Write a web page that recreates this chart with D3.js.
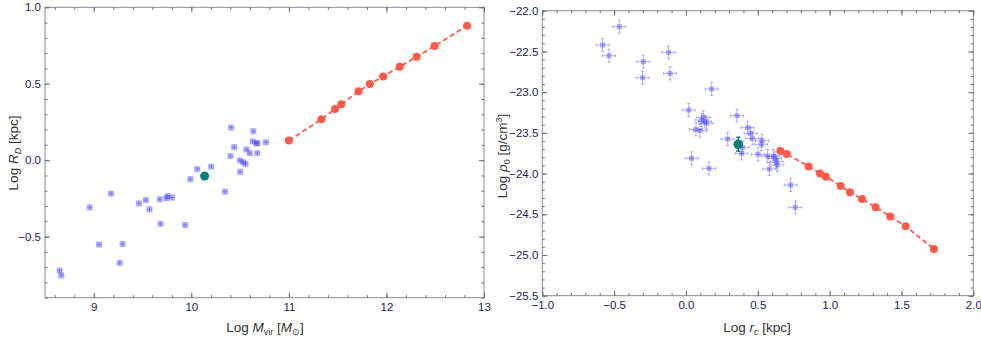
<!DOCTYPE html>
<html><head><meta charset="utf-8">
<script src="https://cdn.jsdelivr.net/npm/d3@7"></script>
<style>
body{margin:0;background:#fff;}
svg{display:block;font-family:"Liberation Sans",Arial,sans-serif;}
.tick text{fill:#1c1c55;font-size:11.5px;}
.domain{display:none;}
.tick line{stroke:#6a6a80;stroke-width:1;}
</style></head><body>
<svg id="c" width="981" height="338"></svg>
<script>
// Left panel: Log M_vir vs Log R_D
const leftObsX = [8.65,8.667,8.959,9.054,9.177,9.265,9.296,9.462,9.534,9.571,9.677,9.684,9.745,9.758,9.803,9.936,9.99,10.061,10.204,10.344,10.401,10.408,10.439,10.497,10.5,10.531,10.555,10.565,10.599,10.629,10.636,10.666,10.677,10.677,10.765];
const leftObsY = [-0.722,-0.754,-0.309,-0.552,-0.219,-0.672,-0.548,-0.283,-0.261,-0.322,-0.256,-0.417,-0.248,-0.235,-0.245,-0.424,-0.124,-0.059,-0.043,-0.206,0.026,0.213,0.085,-0.002,-0.076,-0.013,-0.024,0.070,0.046,0.122,0.189,0.109,0.112,0.046,0.117];
const leftSimX = [11.0,11.333,11.473,11.537,11.714,11.830,11.966,12.136,12.31,12.493,12.827];
const leftSimY = [0.128,0.267,0.335,0.365,0.450,0.498,0.548,0.611,0.676,0.746,0.880];
const leftRefX = [10.136];
const leftRefY = [-0.104];
const leftXTicks = [9,10,11,12,13];
const leftYTicks = [-0.5,0.0,0.5,1.0];

// Right panel: Log r_c vs Log rho_0
const rightObsX = [-0.464,-0.580,-0.536,-0.297,-0.302,-0.121,-0.111,0.179,0.019,0.121,0.109,0.132,0.144,0.070,0.097,0.355,0.290,0.039,0.160,0.429,0.450,0.462,0.529,0.524,0.394,0.387,0.501,0.568,0.608,0.619,0.631,0.636,0.580,0.729,0.761];
const rightObsY = [-22.196,-22.422,-22.553,-22.626,-22.823,-22.512,-22.770,-22.962,-23.220,-23.310,-23.343,-23.363,-23.384,-23.457,-23.474,-23.289,-23.576,-23.813,-23.936,-23.437,-23.506,-23.568,-23.596,-23.641,-23.678,-23.752,-23.764,-23.785,-23.785,-23.813,-23.854,-23.895,-23.944,-24.141,-24.415];
const rightSimX = [0.657,0.701,0.854,0.933,0.974,1.077,1.142,1.225,1.320,1.422,1.529,1.726];
const rightSimY = [-23.723,-23.760,-23.912,-23.998,-24.038,-24.153,-24.231,-24.313,-24.415,-24.526,-24.648,-24.927];
const rightRefX = [0.364];
const rightRefY = [-23.641];
const rightXTicks = [-1.0,-0.5,0.0,0.5,1.0,1.5,2.0];
const rightYTicks = [-25.5,-25.0,-24.5,-24.0,-23.5,-23.0,-22.5,-22.0];

const svg = d3.select("#c");
const RED = "#ff5a4c", TEAL = "#0c7f7b", BLUE = "rgba(70,70,255,0.42)";

function frame(g, x, y, xt, yt, xMinStep, yMinStep, xfmt, yfmt){
  const [x0,x1] = x.range(), [y1,y0] = y.range();
  const xd = x.domain(), yd = y.domain();
  const xMin = d3.range(Math.round(xd[0]/xMinStep), Math.round(xd[1]/xMinStep)+1).map(i=>i*xMinStep);
  const yMin = d3.range(Math.round(yd[0]/yMinStep), Math.round(yd[1]/yMinStep)+1).map(i=>i*yMinStep);
  g.append("rect").attr("x",x0).attr("y",y0).attr("width",x1-x0).attr("height",y1-y0)
    .attr("fill","none").attr("stroke","#8a8a98").attr("stroke-width",1);
  // minor
  g.append("g").attr("transform",`translate(0,${y1})`).call(d3.axisBottom(x).tickValues(xMin).tickSize(-2.5).tickFormat(""));
  g.append("g").attr("transform",`translate(0,${y0})`).call(d3.axisTop(x).tickValues(xMin).tickSize(-2.5).tickFormat(""));
  g.append("g").attr("transform",`translate(${x0},0)`).call(d3.axisLeft(y).tickValues(yMin).tickSize(-2.5).tickFormat(""));
  g.append("g").attr("transform",`translate(${x1},0)`).call(d3.axisRight(y).tickValues(yMin).tickSize(-2.5).tickFormat(""));
  // major
  g.append("g").attr("transform",`translate(0,${y1})`).call(d3.axisBottom(x).tickValues(xt).tickSize(-5).tickPadding(5).tickFormat(xfmt));
  g.append("g").attr("transform",`translate(0,${y0})`).call(d3.axisTop(x).tickValues(xt).tickSize(-5).tickFormat(""));
  g.append("g").attr("transform",`translate(${x0},0)`).call(d3.axisLeft(y).tickValues(yt).tickSize(-5).tickPadding(4).tickFormat(yfmt));
  g.append("g").attr("transform",`translate(${x1},0)`).call(d3.axisRight(y).tickValues(yt).tickSize(-5).tickFormat(""));
  g.selectAll(".tick text").text(function(){return this.textContent.replace("-","\u2212");});
}

function sim(g, x, y, xs, ys){
  const line = d3.line().x((d,i)=>x(xs[i])).y((d,i)=>y(ys[i]));
  g.append("path").attr("d", line(xs)).attr("fill","none").attr("stroke",RED)
    .attr("stroke-width",1.8).attr("stroke-dasharray","5,3");
  g.selectAll(null).data(xs).enter().append("circle")
    .attr("cx",(d)=>x(d)).attr("cy",(d,i)=>y(ys[i])).attr("r",4).attr("fill",RED);
}

// ---------- Left ----------
const xL = d3.scaleLinear().domain([8.5,13]).range([45,484]);
const yL = d3.scaleLinear().domain([-0.9,1.0]).range([297.7,7.3]);
const gL = svg.append("g");
frame(gL, xL, yL, leftXTicks, leftYTicks, 0.2, 0.1, d3.format("d"), d3.format(".1f"));
const obsL = gL.append("g");
leftObsX.forEach((v,i)=>{
  const cx = xL(v), cy = yL(leftObsY[i]);
  obsL.append("rect").attr("x",cx-3).attr("y",cy-3).attr("width",6).attr("height",6).attr("fill",BLUE);
  obsL.append("path").attr("d",`M${cx-2.5},${cy}H${cx+2.5}M${cx},${cy-2.5}V${cy+2.5}`).attr("stroke",BLUE).attr("stroke-width",1);
});
sim(gL, xL, yL, leftSimX, leftSimY);
gL.selectAll(null).data(leftRefX).enter().append("circle")
  .attr("cx",d=>xL(d)).attr("cy",(d,i)=>yL(leftRefY[i])).attr("r",4.5).attr("fill",TEAL);

// axis labels left
const labL = svg.append("text").attr("x",265).attr("y",332).attr("text-anchor","middle")
  .attr("font-size",13.5).attr("fill","#333");
labL.append("tspan").text("Log ");
labL.append("tspan").attr("font-style","italic").text("M");
labL.append("tspan").attr("font-size",9).attr("dy",3).text("vir");
labL.append("tspan").attr("dy",-3).text(" [");
labL.append("tspan").attr("font-style","italic").text("M");
labL.append("tspan").attr("font-size",9).attr("dy",3).text("\u2299");
labL.append("tspan").attr("dy",-3).text("]");

const labLy = svg.append("text").attr("transform","translate(18,153) rotate(-90)").attr("text-anchor","middle")
  .attr("font-size",13.5).attr("fill","#333");
labLy.append("tspan").text("Log ");
labLy.append("tspan").attr("font-style","italic").text("R");
labLy.append("tspan").attr("font-size",9).attr("font-style","italic").attr("dy",3).text("D");
labLy.append("tspan").attr("dy",-3).text(" [kpc]");

// ---------- Right ----------
const xR = d3.scaleLinear().domain([-1,2]).range([542.3,973.3]);
const yR = d3.scaleLinear().domain([-25.5,-22]).range([295.7,10.7]);
const gR = svg.append("g");
frame(gR, xR, yR, rightXTicks, rightYTicks, 0.1, 0.1, d3.format(".1f"), d3.format(".1f"));
const obsR = gR.append("g");
rightObsX.forEach((v,i)=>{
  const cx = xR(v), cy = yR(rightObsY[i]);
  const ex = 6.5, ey = 6.5;
  obsR.append("rect").attr("x",cx-2.5).attr("y",cy-2.5).attr("width",5).attr("height",5).attr("fill",BLUE);
  obsR.append("path").attr("d",
    `M${cx-ex},${cy}H${cx+ex}M${cx},${cy-ey}V${cy+ey}` +
    `M${cx-ex},${cy-1.5}V${cy+1.5}M${cx+ex},${cy-1.5}V${cy+1.5}` +
    `M${cx-1.5},${cy-ey}H${cx+1.5}M${cx-1.5},${cy+ey}H${cx+1.5}`)
    .attr("stroke",BLUE).attr("stroke-width",1).attr("fill","none");
});
sim(gR, xR, yR, rightSimX, rightSimY);
rightRefX.forEach((v,i)=>{
  const cx = xR(v), cy = yR(rightRefY[i]);
  gR.append("path").attr("d",`M${cx},${cy-7}V${cy+7}M${cx-2},${cy-7}H${cx+2}M${cx-2},${cy+7}H${cx+2}`)
    .attr("stroke",TEAL).attr("stroke-width",1.5);
  gR.append("circle").attr("cx",cx).attr("cy",cy).attr("r",4.8).attr("fill",TEAL);
});

const labR = svg.append("text").attr("x",757).attr("y",332).attr("text-anchor","middle")
  .attr("font-size",13.5).attr("fill","#333");
labR.append("tspan").text("Log ");
labR.append("tspan").attr("font-style","italic").text("r");
labR.append("tspan").attr("font-size",9).attr("font-style","italic").attr("dy",3).text("c");
labR.append("tspan").attr("dy",-3).text(" [kpc]");

const labRy = svg.append("text").attr("transform","translate(507,156) rotate(-90)").attr("text-anchor","middle")
  .attr("font-size",13.5).attr("fill","#333");
labRy.append("tspan").text("Log ");
labRy.append("tspan").attr("font-style","italic").text("\u03c1");
labRy.append("tspan").attr("font-size",9).attr("dy",3).text("0");
labRy.append("tspan").attr("dy",-3).text(" [g/cm");
labRy.append("tspan").attr("font-size",9).attr("dy",-5).text("3");
labRy.append("tspan").attr("dy",5).text("]");
</script></body></html>
